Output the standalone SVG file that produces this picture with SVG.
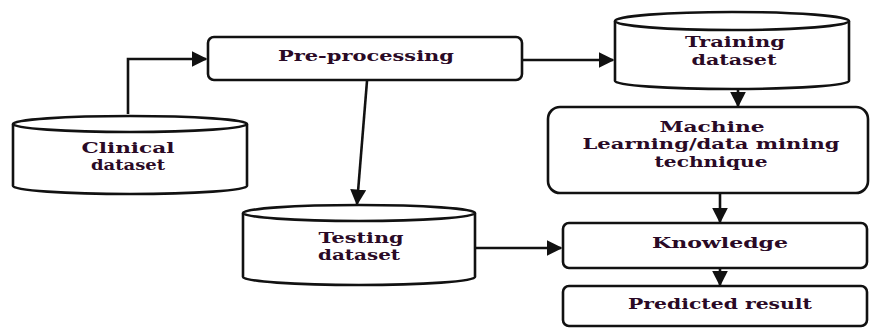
<svg xmlns="http://www.w3.org/2000/svg" width="872" height="328" viewBox="0 0 872 328">
<defs>
<style>
.s{fill:#fff;stroke:#111;stroke-width:2.6}
.c{fill:none;stroke:#111;stroke-width:2.6}
.t{font-family:"DejaVu Serif","Liberation Serif",serif;font-weight:bold;font-size:15px;fill:#2a0a26;text-anchor:middle}
</style>
<marker id="ab" viewBox="0 0 10 10" refX="9" refY="5" markerWidth="16" markerHeight="16" orient="auto" markerUnits="userSpaceOnUse">
<path d="M0,0 L10,5 L0,10 z" fill="#111"/>
</marker>
</defs>
<rect width="872" height="328" fill="#fff"/>
<g id="connectors">
<path class="c" d="M128,114 V59 H206" marker-end="url(#ab)"/>
<path class="c" d="M522,60 H613" marker-end="url(#ab)"/>
<path class="c" d="M367,81 L357,204" marker-end="url(#ab)"/>
<path class="c" d="M738,89 V106" marker-end="url(#ab)"/>
<path class="c" d="M720,193 V222" marker-end="url(#ab)"/>
<path class="c" d="M475,248 H561" marker-end="url(#ab)"/>
<path class="c" d="M720,268 V285" marker-end="url(#ab)"/>
</g>
<g id="clinical">
<path class="s" d="M13,124 V186 A117,8 0 0 0 247,186 V124"/>
<ellipse class="s" cx="130" cy="124" rx="117" ry="8"/>
<text class="t" x="128" y="153" textLength="93" lengthAdjust="spacingAndGlyphs">Clinical</text>
<text class="t" x="128" y="170" textLength="74" lengthAdjust="spacingAndGlyphs">dataset</text>
</g>
<g id="preprocessing">
<rect class="s" x="208" y="37" width="314" height="43" rx="6"/>
<text class="t" x="366" y="61" textLength="176" lengthAdjust="spacingAndGlyphs">Pre-processing</text>
</g>
<g id="training">
<path class="s" d="M615,21 V81 A117,8 0 0 0 849,81 V21"/>
<ellipse class="s" cx="732" cy="21" rx="117" ry="9"/>
<text class="t" x="735" y="47" textLength="100" lengthAdjust="spacingAndGlyphs">Training</text>
<text class="t" x="734" y="65" textLength="85" lengthAdjust="spacingAndGlyphs">dataset</text>
</g>
<g id="ml">
<rect class="s" x="548" y="107" width="320" height="86" rx="12"/>
<text class="t" x="712" y="132" textLength="105" lengthAdjust="spacingAndGlyphs">Machine</text>
<text class="t" x="711" y="149" textLength="257" lengthAdjust="spacingAndGlyphs">Learning/data mining</text>
<text class="t" x="711" y="167" textLength="113" lengthAdjust="spacingAndGlyphs">technique</text>
</g>
<g id="testing">
<path class="s" d="M243,213 V277 A116,8 0 0 0 475,277 V213"/>
<ellipse class="s" cx="359" cy="213" rx="116" ry="8"/>
<text class="t" x="361" y="243" textLength="85" lengthAdjust="spacingAndGlyphs">Testing</text>
<text class="t" x="359" y="260" textLength="82" lengthAdjust="spacingAndGlyphs">dataset</text>
</g>
<g id="knowledge">
<rect class="s" x="563" y="223" width="304" height="45" rx="6"/>
<text class="t" x="720" y="248" textLength="136" lengthAdjust="spacingAndGlyphs">Knowledge</text>
</g>
<g id="predicted">
<rect class="s" x="563" y="286" width="304" height="40" rx="6"/>
<text class="t" x="720" y="309" textLength="184" lengthAdjust="spacingAndGlyphs">Predicted result</text>
</g>
</svg>
